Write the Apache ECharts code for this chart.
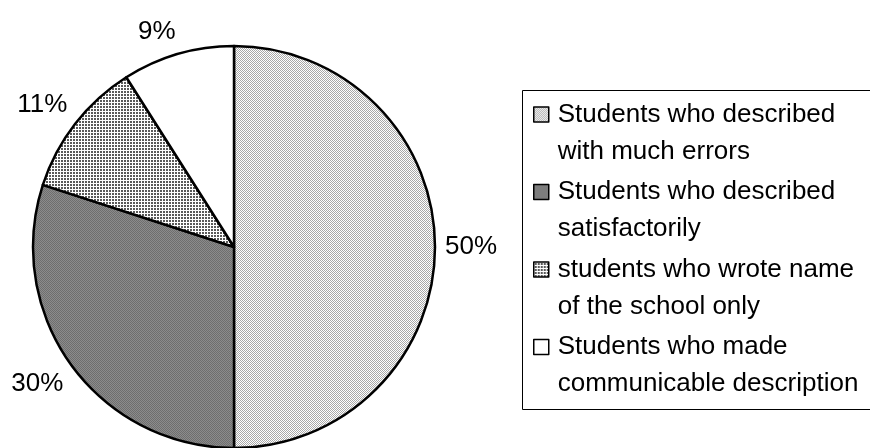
<!DOCTYPE html>
<html>
<head>
<meta charset="utf-8">
<script src="https://cdn.jsdelivr.net/npm/echarts@6/dist/echarts.min.js"></script>
<style>
  html, body { margin: 0; padding: 0; background: #fff; }
  #chart { width: 870px; height: 448px; }
</style>
</head>
<body>
<div id="chart"></div>
<script>
// Survey responses: how students described their school
const categories = [
  'Students who described\nwith much errors',
  'Students who described\nsatisfactorily',
  'students who wrote name\nof the school only',
  'Students who made\ncommunicable description'
];
const shares = [50, 30, 11, 9];

// Small tiled fills imitating print-style hatching
function makeTile(w, h, paint) {
  const c = document.createElement('canvas');
  c.width = w; c.height = h;
  const ctx = c.getContext('2d');
  ctx.fillStyle = '#ffffff';
  ctx.fillRect(0, 0, w, h);
  paint(ctx);
  return { image: c, repeat: 'repeat' };
}
const dotsLight = makeTile(2, 2, ctx => {
  ctx.fillStyle = '#a8a8a8';
  ctx.fillRect(0, 0, 1, 1);
  ctx.fillRect(1, 1, 1, 1);
});
const checkDark = makeTile(2, 2, ctx => {
  ctx.fillStyle = '#8c8c8c';
  ctx.fillRect(0, 0, 2, 2);
  ctx.fillStyle = '#6e6e6e';
  ctx.fillRect(0, 0, 1, 1);
  ctx.fillRect(1, 1, 1, 1);
});
const gridMid = makeTile(3, 3, ctx => {
  ctx.fillStyle = '#5a5a5a';
  ctx.fillRect(1, 1, 2, 2);
});
const fills = [dotsLight, checkDark, gridMid, '#ffffff'];

const CX = 234, CY = 247, R = 201, GAP = 10;
const FONT = '"Liberation Sans", Arial, sans-serif';
const LINE_H = 37;

const total = shares.reduce((a, b) => a + b, 0);
const before = shares.map((v, i) => shares.slice(0, i).reduce((a, b) => a + b, 0));

// Legend swatch sits beside the first text line: the square is drawn at the
// top of a taller (otherwise empty) icon box.
const SW = 15;
const ICON_H = SW + LINE_H;
const swatch = 'path://M0,0L' + SW + ',0L' + SW + ',' + SW + 'L0,' + SW + 'Z M0,' + ICON_H + 'L0,' + ICON_H;

const chart = echarts.init(document.getElementById('chart'), null, { renderer: 'canvas' });
chart.setOption({
  animation: false,
  backgroundColor: '#ffffff',
  graphic: [{
    type: 'rect',
    shape: { x: 522.5, y: 90.5, width: 400, height: 319 },
    style: { fill: '#ffffff', stroke: '#000000', lineWidth: 1 },
    z: 0
  }],
  legend: {
    orient: 'vertical',
    left: 533,
    top: 96,
    height: 345,
    itemWidth: SW,
    itemHeight: ICON_H,
    itemGap: 3.5,
    padding: 0,
    icon: swatch,
    selectedMode: false,
    itemStyle: { borderColor: '#000000', borderWidth: 1.5 },
    textStyle: {
      fontFamily: FONT,
      fontSize: 26,
      color: '#000000',
      lineHeight: LINE_H,
      padding: [0, 0, 0, 4]
    },
    data: categories
  },
  series: [{
    type: 'pie',
    center: [CX, CY],
    radius: R,
    startAngle: 90,
    clockwise: true,
    silent: true,
    itemStyle: { borderColor: '#000000', borderWidth: 2.5 },
    label: {
      show: true,
      position: 'outside',
      overflow: 'none',
      formatter: p => p.value + '%',
      fontFamily: FONT,
      fontSize: 26,
      color: '#000000'
    },
    labelLine: { show: false },
    // Percent labels sit just beyond the rim, pushed out along each slice's mid-angle
    labelLayout: function (p) {
      const i = p.dataIndex;
      const mid = (before[i] + shares[i] / 2) / total;
      const theta = mid * 2 * Math.PI;
      const dx = Math.sin(theta), dy = -Math.cos(theta);
      const s = v => Math.max(-1, Math.min(1, v * 3.5));
      const w = p.labelRect.width, h = p.labelRect.height;
      return {
        x: CX + dx * (R + GAP) + s(dx) * w / 2,
        y: CY + dy * (R + GAP) + s(dy) * h / 2,
        align: 'center',
        verticalAlign: 'middle'
      };
    },
    data: categories.map((name, i) => ({
      name: name,
      value: shares[i],
      itemStyle: { color: fills[i] }
    }))
  }]
});
</script>
</body>
</html>
